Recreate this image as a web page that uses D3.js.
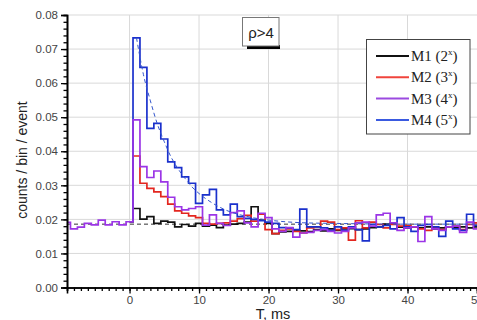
<!DOCTYPE html>
<html>
<head>
<meta charset="utf-8">
<script src="https://cdn.jsdelivr.net/npm/d3@7"></script>
<style>
  body { margin: 0; background: #fff; }
  svg { display: block; }
</style>
</head>
<body>
<div id="chart"></div>
<script>
// bin centres (ms), bin width 1 ms
const tPre = d3.range(-9, 0);
const tPost = d3.range(0, 51);

// background before the trigger (only M3 visible there)
const preM3 = [0.0191, 0.0172, 0.0177, 0.0188, 0.0184, 0.0198, 0.0184, 0.0193, 0.0184];

const m1 = [0.0193,
  0.0232, 0.0201, 0.0208, 0.0188, 0.0195, 0.0192, 0.0178, 0.0185, 0.0180, 0.0188,
  0.0180, 0.0183, 0.0176, 0.0183, 0.0186, 0.0188, 0.0192, 0.0237, 0.0198, 0.0188,
  0.0158, 0.0163, 0.0165, 0.0168, 0.0166, 0.0164, 0.0170, 0.0166, 0.0172, 0.0168,
  0.0172, 0.0173, 0.0170, 0.0172, 0.0176, 0.0178, 0.0186, 0.0188, 0.0177, 0.0175,
  0.0178, 0.0175, 0.0178, 0.0172, 0.0175, 0.0178, 0.0176, 0.0178, 0.0175, 0.0178];

const m2 = [0.0193,
  0.0386, 0.0306, 0.0291, 0.0281, 0.0267, 0.0245, 0.0225, 0.0218, 0.0210, 0.0205,
  0.0188, 0.0186, 0.0188, 0.0190, 0.0195, 0.0202, 0.0212, 0.0195, 0.0215, 0.0170,
  0.0158, 0.0168, 0.0172, 0.0165, 0.0160, 0.0175, 0.0178, 0.0195, 0.0192, 0.0170,
  0.0175, 0.0139, 0.0196, 0.0175, 0.0192, 0.0185, 0.0175, 0.0185, 0.0180, 0.0182,
  0.0178, 0.0172, 0.0168, 0.0175, 0.0170, 0.0178, 0.0180, 0.0170, 0.0185, 0.0190];

const m3 = [0.0193,
  0.0492, 0.0355, 0.0323, 0.0342, 0.0310, 0.0265, 0.0237, 0.0228, 0.0232, 0.0237,
  0.0183, 0.0213, 0.0188, 0.0182, 0.0220, 0.0225, 0.0190, 0.0178, 0.0218, 0.0205,
  0.0172, 0.0165, 0.0176, 0.0148, 0.0160, 0.0162, 0.0168, 0.0170, 0.0165, 0.0160,
  0.0165, 0.0175, 0.0190, 0.0192, 0.0180, 0.0213, 0.0218, 0.0190, 0.0168, 0.0175,
  0.0178, 0.0135, 0.0208, 0.0172, 0.0168, 0.0178, 0.0180, 0.0162, 0.0192, 0.0172];

const m4 = [0.0193,
  0.0733, 0.0646, 0.0467, 0.0482, 0.0436, 0.0369, 0.0352, 0.0325, 0.0306, 0.0247,
  0.0272, 0.0288, 0.0228, 0.0213, 0.0245, 0.0208, 0.0203, 0.0200, 0.0196, 0.0192,
  0.0188, 0.0176, 0.0175, 0.0170, 0.0230, 0.0178, 0.0178, 0.0175, 0.0168, 0.0178,
  0.0168, 0.0178, 0.0170, 0.0137, 0.0185, 0.0178, 0.0182, 0.0172, 0.0205, 0.0178,
  0.0165, 0.0182, 0.0185, 0.0178, 0.0150, 0.0195, 0.0172, 0.0168, 0.0215, 0.0182];

// fitted decay curve for M4
const fitT = [1, 2, 3, 4, 5, 6, 7, 8, 9, 10, 12, 14, 16, 18, 20, 25, 30, 40, 50];
const fitV = [0.0733, 0.0625, 0.0548, 0.0480, 0.0428, 0.0382, 0.0348, 0.0320, 0.0295, 0.0276,
  0.0247, 0.0226, 0.0213, 0.0204, 0.0198, 0.0190, 0.0188, 0.0186, 0.0186];

const baseline = 0.0186;

const names = ["M1", "M2", "M3", "M4"];
const powers = ["2", "3", "4", "5"];
const colors = ["#111111", "#e3261f", "#9b35e6", "#1a30cc"];
const legendColors = ["#111111", "#f0443c", "#9b4ae0", "#3a5ae0"];

const yTicks = [0, 0.01, 0.02, 0.03, 0.04, 0.05, 0.06, 0.07, 0.08];
const xTicks = [0, 10, 20, 30, 40, 50];

let width = 477, height = 320;
let svg = d3.select('#chart').append('svg')
  .attr('width', width)
  .attr('height', height);

let x = d3.scaleLinear().domain([-9, 50]).range([67, 477]);
let y = d3.scaleLinear().domain([0, 0.08]).range([287.5, 15]);

let font = "Arial, 'Liberation Sans', sans-serif";

svg.append('clipPath').attr('id', 'plot')
  .append('rect')
  .attr('x', x(-9)).attr('y', y(0.08))
  .attr('width', x(50) - x(-9)).attr('height', y(0) - y(0.08));

// grid
let grid = svg.append('g').attr('stroke', '#d9d9d9').attr('stroke-width', 1);
grid.selectAll('line.v').data(xTicks.slice(0, -1)).enter().append('line')
  .attr('x1', d => x(d)).attr('x2', d => x(d))
  .attr('y1', y(0.08)).attr('y2', y(0));
grid.selectAll('line.h').data(yTicks.slice(1)).enter().append('line')
  .attr('x1', x(-9)).attr('x2', x(50))
  .attr('y1', d => y(d)).attr('y2', d => y(d));

let g = svg.append('g').attr('clip-path', 'url(#plot)');

// baseline
g.append('line')
  .attr('x1', x(-9)).attr('x2', x(50))
  .attr('y1', y(baseline)).attr('y2', y(baseline))
  .attr('stroke', '#333').attr('stroke-width', 1)
  .attr('stroke-dasharray', '4,3');

let step = d3.line()
  .x(d => x(d[0]))
  .y(d => y(d[1]))
  .curve(d3.curveStep);

let series = [
  tPost.map((t, i) => [t, m1[i]]),
  tPost.map((t, i) => [t, m2[i]]),
  tPre.map((t, i) => [t, preM3[i]]).concat(tPost.map((t, i) => [t, m3[i]])),
  tPost.map((t, i) => [t, m4[i]])
];

// draw order: M1, M2, M4, M3 on top
[0, 1, 3, 2].forEach(k => {
  g.append('path')
    .attr('d', step(series[k]))
    .attr('fill', 'none')
    .attr('stroke', colors[k])
    .attr('stroke-width', 1.7);
});

// fit
let fitLine = d3.line()
  .x((d, i) => x(fitT[i]))
  .y(d => y(d))
  .curve(d3.curveMonotoneX);
g.append('path')
  .attr('d', fitLine(fitV))
  .attr('fill', 'none')
  .attr('stroke', '#3355cc')
  .attr('stroke-width', 1)
  .attr('stroke-dasharray', '4,3');

// axes
let yAxis = svg.append('g')
  .attr('transform', `translate(${x(-9)},0)`)
  .call(d3.axisLeft(y).tickValues(yTicks).tickFormat(d3.format('.2f')).tickSize(6).tickPadding(3));
let yMinor = svg.append('g')
  .attr('transform', `translate(${x(-9)},0)`)
  .call(d3.axisLeft(y).tickValues(d3.range(0, 0.0801, 0.002)).tickFormat('').tickSize(3.5));
let xAxis = svg.append('g')
  .attr('transform', `translate(0,${y(0)})`)
  .call(d3.axisBottom(x).tickValues(xTicks).tickFormat(d3.format('d')).tickSize(6).tickPadding(2));
let xMinor = svg.append('g')
  .attr('transform', `translate(0,${y(0)})`)
  .call(d3.axisBottom(x).tickValues(d3.range(-9, 51, 1)).tickFormat('').tickSize(3.5));

[yAxis, yMinor, xAxis, xMinor].forEach(a => {
  a.select('.domain').attr('stroke', '#000').attr('stroke-width', 1.6);
  a.selectAll('.tick line').attr('stroke', '#000').attr('stroke-width', 1.3);
  a.selectAll('text').attr('font-family', font).attr('font-size', 11.5).attr('fill', '#444');
});

// axis titles
svg.append('text')
  .attr('transform', `translate(22,160) rotate(-90)`)
  .attr('text-anchor', 'middle')
  .attr('dominant-baseline', 'central')
  .attr('font-family', font).attr('font-size', 14).attr('fill', '#222')
  .text('counts / bin / event');

svg.append('text')
  .attr('x', 273).attr('y', 318.5)
  .attr('text-anchor', 'middle')
  .attr('font-family', font).attr('font-size', 14.5).attr('fill', '#222')
  .text('T, ms');

// title box
svg.append('rect')
  .attr('x', 247).attr('y', 45).attr('width', 33).attr('height', 4)
  .attr('fill', '#000');
svg.append('rect')
  .attr('x', 242.5).attr('y', 17.5).attr('width', 36.5).attr('height', 28.5)
  .attr('fill', '#fff').attr('stroke', '#777').attr('stroke-width', 1);
svg.append('text')
  .attr('x', 261).attr('y', 38)
  .attr('text-anchor', 'middle')
  .attr('font-family', font).attr('font-size', 15).attr('fill', '#222')
  .text('ρ>4');

// legend
let lg = svg.append('g');
lg.append('rect')
  .attr('x', 366.5).attr('y', 39.5).attr('width', 103.5).attr('height', 94.5)
  .attr('fill', '#fff').attr('stroke', '#444').attr('stroke-width', 1);
names.forEach((n, i) => {
  let yy = 56 + i * 21.3;
  lg.append('line')
    .attr('x1', 376).attr('x2', 409)
    .attr('y1', yy).attr('y2', yy)
    .attr('stroke', legendColors[i]).attr('stroke-width', 2);
  let t = lg.append('text')
    .attr('x', 411).attr('y', yy + 5)
    .attr('font-family', "'Times New Roman', 'Liberation Serif', serif")
    .attr('font-size', 15).attr('fill', '#222');
  t.append('tspan').text(n + ' (' + powers[i]);
  t.append('tspan').attr('dy', -6).attr('font-size', 9).text('x');
  t.append('tspan').attr('dy', 6).text(')');
});
</script>
</body>
</html>
